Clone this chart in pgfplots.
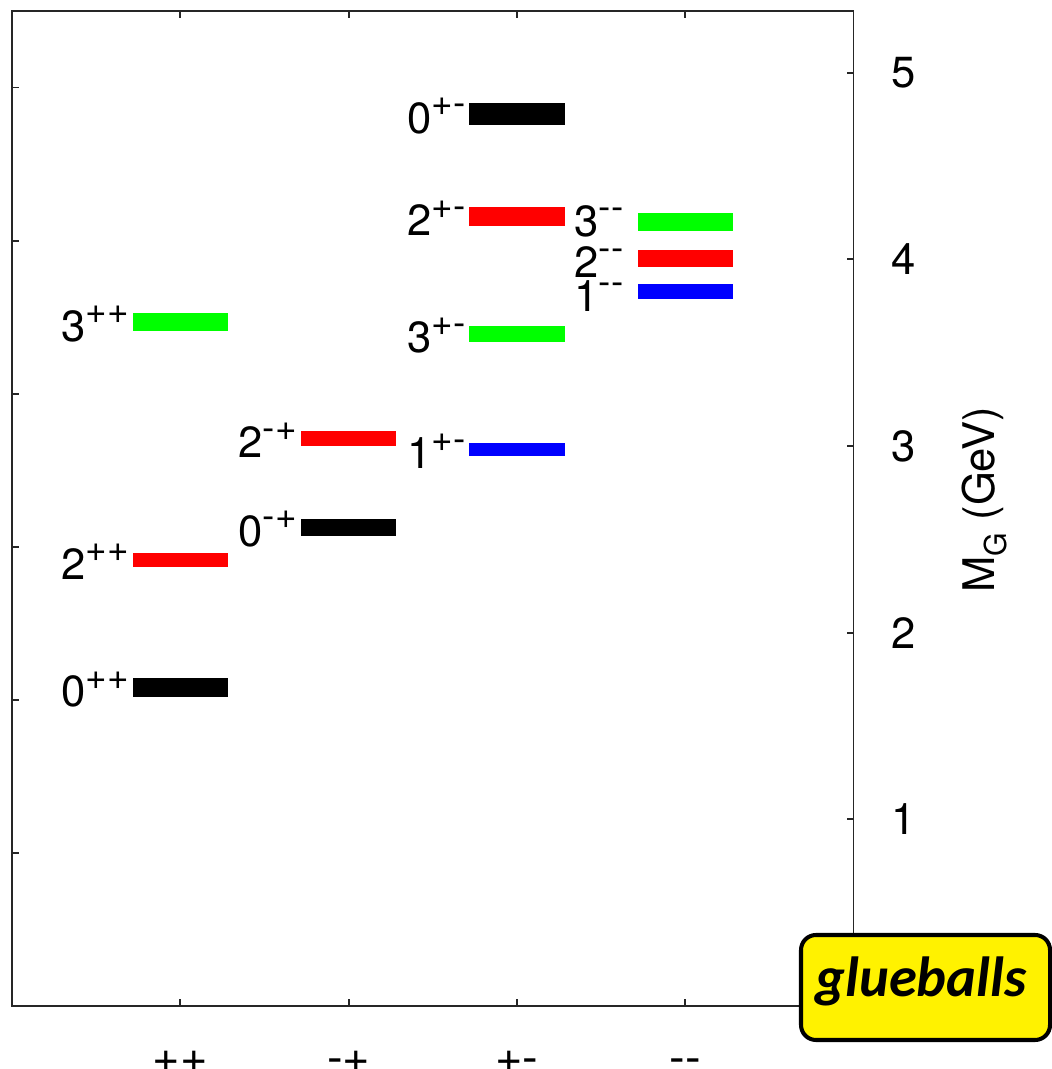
\documentclass[border=0pt]{standalone}
\usepackage{fontspec}
\setmainfont{TeX Gyre Heros}
\newfontfamily\calib{Carlito}
\usepackage{pgfplots}
\pgfplotsset{compat=1.18}
\newcommand\mainsize{\fontsize{12.4}{14.5}\selectfont}
\newcommand\lab[2]{#1\raisebox{0.4em}{\fontsize{10.5}{11}\selectfont #2}}
\begin{document}
\begin{tikzpicture}
\useasboundingbox (-0.12,-0.63) rectangle (10.40,10.06);
% left ticks (second scale)
\begin{axis}[
  scale only axis, width=8.415cm, height=9.95cm,
  xmin=0, xmax=5, ymin=0, ymax=5.33,
  xtick=\empty,
  ytick={0.82,1.64,2.46,3.28,4.10,4.92},
  yticklabels={},
  ytick pos=left,
  tick align=inside, major tick length=0.07cm,
  tick style={line width=0.55pt, black!85},
  axis line style={draw=none},
]
\end{axis}
\begin{axis}[
  scale only axis, width=8.415cm, height=9.95cm,
  xmin=0, xmax=5, ymin=0, ymax=5.33,
  clip=false,
  axis line style={line width=0.55pt, black!85},
  tick style={line width=0.55pt, black!85},
  tick align=inside, major tick length=0.07cm,
  xtick={1,2,3,4},
  xticklabels={++,{-}+,+{-},{-}{-}},
  xtick pos=both, xticklabel pos=lower,
  ytick={1,2,3,4,5},
  ytick pos=right, yticklabel pos=right,
  /pgf/number format/assume math mode=true,
  xticklabel style={font=\fontsize{13.4}{15}\selectfont, anchor=base, yshift=-0.67cm},
  yticklabel style={font=\mainsize, anchor=west, xshift=0.26cm},
]
% ++
\addplot[fill=black, draw=none] coordinates {(0.717,1.653) (1.283,1.653) (1.283,1.755) (0.717,1.755)};
\addplot[fill=red, draw=none] coordinates {(0.717,2.353) (1.283,2.353) (1.283,2.425) (0.717,2.425)};
\addplot[fill=green, draw=none] coordinates {(0.717,3.614) (1.283,3.614) (1.283,3.710) (0.717,3.710)};
% -+
\addplot[fill=black, draw=none] coordinates {(1.717,2.519) (2.283,2.519) (2.283,2.609) (1.717,2.609)};
\addplot[fill=red, draw=none] coordinates {(1.717,2.998) (2.283,2.998) (2.283,3.082) (1.717,3.082)};
% +-
\addplot[fill=blue, draw=none] coordinates {(2.717,2.944) (3.283,2.944) (3.283,3.014) (2.717,3.014)};
\addplot[fill=green, draw=none] coordinates {(2.717,3.557) (3.283,3.557) (3.283,3.643) (2.717,3.643)};
\addplot[fill=red, draw=none] coordinates {(2.717,4.176) (3.283,4.176) (3.283,4.282) (2.717,4.282)};
\addplot[fill=black, draw=none] coordinates {(2.717,4.719) (3.283,4.719) (3.283,4.835) (2.717,4.835)};
% --
\addplot[fill=blue, draw=none] coordinates {(3.717,3.786) (4.283,3.786) (4.283,3.870) (3.717,3.870)};
\addplot[fill=red, draw=none] coordinates {(3.717,3.957) (4.283,3.957) (4.283,4.051) (3.717,4.051)};
\addplot[fill=green, draw=none] coordinates {(3.717,4.153) (4.283,4.153) (4.283,4.247) (3.717,4.247)};
% labels
\begin{scope}[every node/.style={anchor=base west, inner sep=0pt, font=\mainsize}]
\node at (axis cs:0.291,1.602) {\lab{0}{++}};
\node at (axis cs:0.291,2.287) {\lab{2}{++}};
\node at (axis cs:0.291,3.560) {\lab{3}{++}};
\node at (axis cs:1.342,2.462) {\lab{0}{{-}+}};
\node at (axis cs:1.342,2.938) {\lab{2}{{-}+}};
\node at (axis cs:2.345,2.877) {\lab{1}{+{-}}};
\node at (axis cs:2.345,3.498) {\lab{3}{+{-}}};
\node at (axis cs:2.345,4.127) {\lab{2}{+{-}}};
\node at (axis cs:2.345,4.675) {\lab{0}{+{-}}};
\node at (axis cs:3.339,3.718) {\lab{1}{{-}{-}}};
\node at (axis cs:3.339,3.902) {\lab{2}{{-}{-}}};
\node at (axis cs:3.339,4.122) {\lab{3}{{-}{-}}};
\end{scope}
\node[rotate=90, anchor=base, inner sep=0pt, font=\mainsize] at (axis description cs:1.167,0.509)
  {M\raisebox{-0.28em}{\fontsize{8.6}{9}\selectfont G} (GeV)};
\end{axis}
\draw[line width=1.15pt, fill=yellow, rounded corners=0.15cm] (7.89,-0.34) rectangle (10.38,0.71);
\node[anchor=base, inner sep=0pt, font=\calib\bfseries\itshape\fontsize{16.1}{18}\selectfont] at (9.09,0.093) {glueballs};
\end{tikzpicture}
\end{document}
